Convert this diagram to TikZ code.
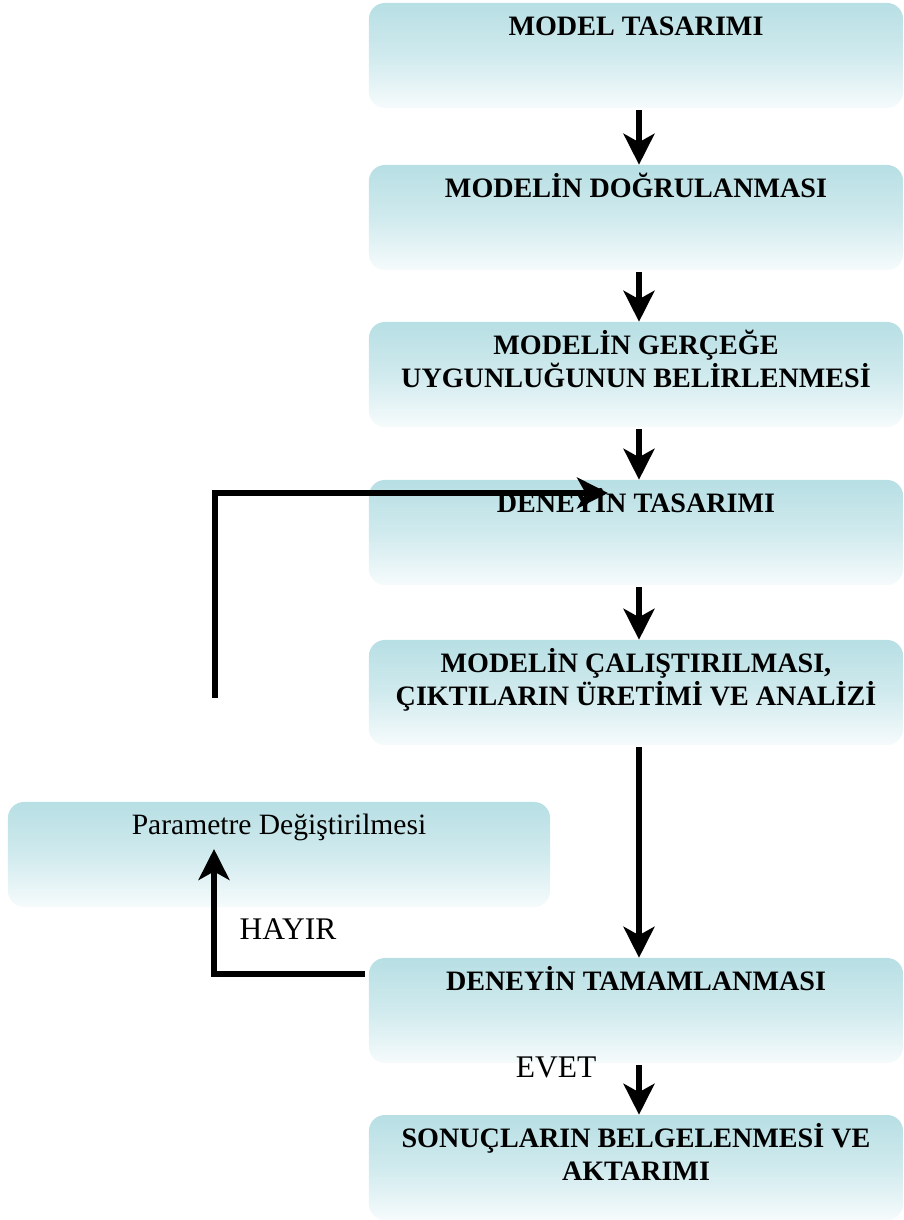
\documentclass[tikz,border=0pt]{standalone}
\usepackage{fontspec}
\setmainfont{Liberation Serif}
\usetikzlibrary{arrows.meta,positioning,calc}
\definecolor{boxteal}{RGB}{183, 223, 228}
\definecolor{boxpale}{RGB}{246, 251, 252}

\begin{document}
\begin{tikzpicture}[x=0.025cm, y=-0.025cm,
  stagebox/.style={rectangle, rounded corners=0.4cm, minimum height=2.625cm, inner sep=0pt, top color=boxteal, bottom color=boxpale, middle color=boxteal!60!boxpale},
  stagetext/.style={anchor=north, inner sep=0pt, align=center, font=\fontsize{21}{24}\selectfont},
  stage/.style={stagebox, minimum width=13.35cm, label={[stagetext, font=\fontsize{20}{24}\selectfont\bfseries]north:\rule{0pt}{22.8pt}#1}},
  side/.style={stagebox, minimum width=13.55cm, label={[stagetext]north:\rule{0pt}{23.4pt}#1}},
  answer/.style={font=\fontsize{22.4}{26}\selectfont},
  flow/.style={line width=3.8pt, -{Stealth[length=22pt, width=22pt, inset=6pt]}}
]
\useasboundingbox (0,0) rectangle (903,1220);

\node[stage={MODEL TASARIMI}] (design) at (636,55.5) {};
\node[stage={MODELİN DOĞRULANMASI}] (verify) at (636,217.5) {};
\node[stage={MODELİN GERÇEĞE\\UYGUNLUĞUNUN BELİRLENMESİ}] (valid) at (636,374.5) {};
\node[stage={DENEYİN TASARIMI}] (expdesign) at (636,532.5) {};
\node[stage={MODELİN ÇALIŞTIRILMASI,\\ÇIKTILARIN ÜRETİMİ VE ANALİZİ}] (run) at (636,692.5) {};
\node[side={Parametre Değiştirilmesi}] (param) at (279,854.5) {};
\node[stage={DENEYİN TAMAMLANMASI}] (complete) at (636,1010.5) {};
\node[stage={SONUÇLARIN BELGELENMESİ VE\\AKTARIMI}] (report) at (636,1167.5) {};

\node[answer] (no) at (288,929) {HAYIR};
\node[answer] (yes) at (556,1067) {EVET};

\coordinate (fbstart) at (215,698);
\coordinate (fbend) at (608,493);
\coordinate (paramin) at (214,849);

\draw[flow] ([xshift=0.075cm, yshift=-0.05cm]design.south) -- ([xshift=0.075cm]verify.north);
\draw[flow] ([xshift=0.075cm, yshift=-0.05cm]verify.south) -- ([xshift=0.075cm]valid.north);
\draw[flow] ([xshift=0.075cm, yshift=-0.05cm]valid.south) -- ([xshift=0.075cm]expdesign.north);
\draw[flow] ([xshift=0.075cm, yshift=-0.05cm]expdesign.south) -- ([xshift=0.075cm]run.north);
\draw[flow] ([xshift=0.075cm, yshift=-0.05cm]run.south) -- ([xshift=0.075cm]complete.north);
\draw[flow] ([xshift=0.075cm, yshift=-0.05cm]complete.south) -- ([xshift=0.075cm]report.north);

\draw[flow] (fbstart) |- (fbend);
\draw[flow] ([xshift=-0.1cm, yshift=0.9125cm]complete.west) -| (paramin);

\end{tikzpicture}
\end{document}
